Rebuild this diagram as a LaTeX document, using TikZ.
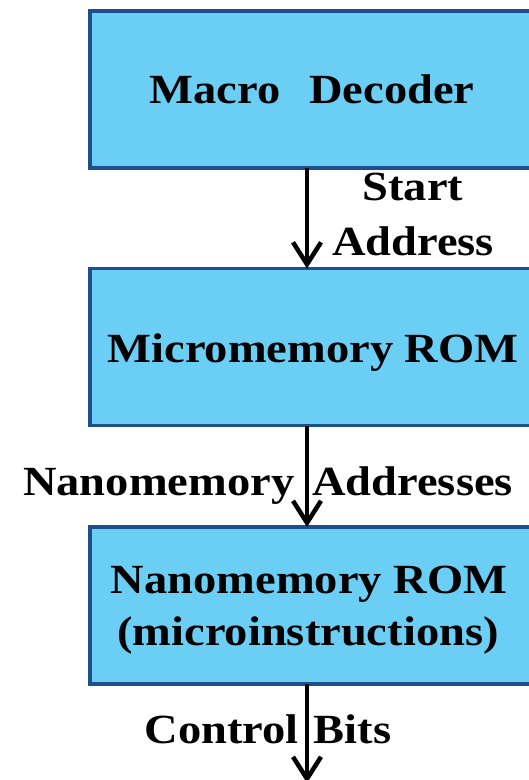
\documentclass[tikz,border=0pt]{standalone}
\usepackage{fontspec}
\setmainfont[FakeStretch=1.12]{Liberation Serif}
\usetikzlibrary{arrows.meta}
\definecolor{boxfill}{RGB}{106,206,245}
\definecolor{boxline}{RGB}{27,80,140}
\begin{document}
\begin{tikzpicture}[x=1pt,y=-1pt,
  blk/.style={draw=boxline, line width=3.5pt, fill=boxfill,
    minimum width=444pt, minimum height=157pt, inner sep=0pt,
    outer sep=0pt, anchor=north west},
  txt/.style={font=\fontsize{41.5}{50}\selectfont\bfseries, anchor=base,
    inner sep=0pt},
  flow/.style={line width=4.5pt,
    -{Straight Barb[length=22pt,width=28pt,line width=4.5pt]}}
]
\useasboundingbox (0,0) rectangle (529,780);
\clip (0,0) rectangle (529,780);
\fill[white] (0,0) rectangle (529,780);

% blocks
\node[blk] (b1) at (90,11) {};
\node[blk] (b2) at (90,268.5) {};
\node[blk] (b3) at (90,527) {};

% block texts
\node[txt] (t1) at (312,103) {Macro\hspace{29pt}Decoder};
\node[txt] (t2) at (313,362) {Micromemory ROM};
\node[txt] (t3a) at (309,593) {Nanomemory ROM};
\node[txt] (t3b) at (308,645) {(microinstructions)};

% connectors
\coordinate (out) at (307,783);
\draw[flow] ([xshift=-5pt]b1.south) -- ([xshift=-5pt]b2.north);
\draw[flow] ([xshift=-5pt]b2.south) -- ([xshift=-5pt]b3.north);
\draw[flow] ([xshift=-5pt]b3.south) -- (out);

% connector labels
\node[txt] (l1a) at (413,200) {Start};
\node[txt] (l1b) at (413,255) {Address};
\node[txt] (l2) at (268,495) {Nanomemory\hspace{18pt}Addresses};
\node[txt] (l3) at (268,743) {Control\hspace{15pt}Bits};
\end{tikzpicture}
\end{document}
